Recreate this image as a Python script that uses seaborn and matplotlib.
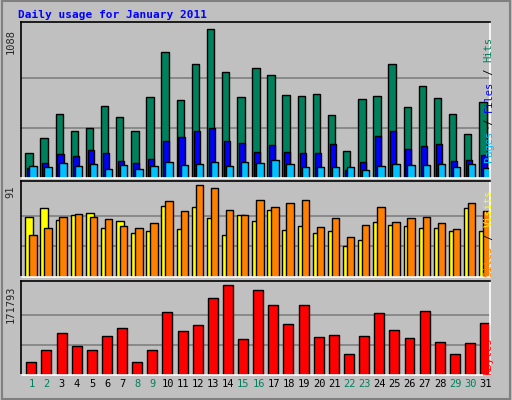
import numpy as np
import matplotlib
matplotlib.use("Agg")
import matplotlib.pyplot as plt
import seaborn as sns

days = np.arange(1, 32)
# values (scaled from bar heights)
hits_px = [74, 119, 188, 137, 149, 212, 179, 140, 239, 371, 230, 335, 440, 314, 239, 323,
           305, 245, 242, 248, 185, 80, 233, 242, 335, 209, 272, 236, 188, 131, 224]
files_px = [30, 44, 71, 65, 83, 74, 50, 44, 56, 110, 122, 140, 149, 110, 104, 77,
            98, 77, 74, 74, 101, 24, 47, 125, 137, 86, 95, 101, 50, 53, 68]
pages_px = [35, 32, 44, 35, 41, 26, 38, 26, 35, 47, 38, 41, 47, 35, 47, 44,
            53, 41, 32, 32, 32, 32, 23, 35, 41, 38, 38, 41, 32, 41, 29]
visits_px = [126, 150, 180, 189, 180, 174, 156, 150, 162, 228, 198, 276, 267, 201, 186, 231,
             210, 222, 231, 153, 177, 120, 159, 210, 165, 177, 180, 162, 147, 222, 198]
sites_px = [180, 207, 171, 186, 192, 150, 168, 132, 138, 213, 147, 210, 177, 126, 186, 168,
            201, 144, 156, 132, 141, 93, 111, 165, 159, 156, 150, 150, 138, 207, 138]
kbytes_px = [39, 75, 126, 87, 75, 117, 144, 39, 75, 192, 135, 153, 234, 273, 108, 258,
             213, 156, 213, 114, 120, 63, 117, 189, 138, 111, 195, 99, 63, 96, 159]

hits = np.round(np.array(hits_px) * 1088 / 440).astype(int)
files = np.round(np.array(files_px) * 1088 / 440).astype(int)
pages = np.round(np.array(pages_px) * 1088 / 440).astype(int)
visits = np.round(np.array(visits_px) * 91 / 276).astype(int)
sites = np.round(np.array(sites_px) * 91 / 276).astype(int)
kbytes = np.round(np.array(kbytes_px) * 171793 / 273).astype(int)
weekend = {1, 2, 8, 9, 15, 16, 22, 23, 29, 30}

bg = "#c0c0c0"
sns.set_style("white")
plt.rcParams["font.family"] = ["DejaVu Sans Mono"]

fig = plt.figure(figsize=(5.12, 4.0), dpi=100, facecolor=bg)
fig.patches.append(plt.Rectangle((0.003, 0.003), 0.994, 0.994, transform=fig.transFigure,
                                 fill=False, edgecolor="#808080", lw=1.5))

ax1 = fig.add_axes([0.041, 0.555, 0.916, 0.39])
ax2 = fig.add_axes([0.041, 0.3075, 0.916, 0.24])
ax3 = fig.add_axes([0.041, 0.0625, 0.916, 0.235])

x0 = days - 1


def draw(ax, off, w, vals, color):
    sns.barplot(x=x0 + off, y=vals, native_scale=True, width=w, color=color,
                edgecolor="black", linewidth=1, saturation=1, ax=ax)


draw(ax1, 0.53, 0.49, hits, "#00805c")
draw(ax1, 0.61, 0.40, files, "#0000ff")
draw(ax1, 0.79, 0.49, pages, "#00c0ff")
draw(ax2, 0.55, 0.53, sites, "#ffff00")
draw(ax2, 0.79, 0.49, visits, "#ff8000")
draw(ax3, 0.68, 0.66, kbytes, "#ff0000")

for ax, top, label in [(ax1, hits.max(), "1088"), (ax2, visits.max(), "91"),
                       (ax3, kbytes.max(), "171793")]:
    ax.set_facecolor(bg)
    ax.set_xlim(0, 31)
    ax.set_ylim(0, top * 1.045)
    for f in (1 / 3, 2 / 3):
        ax.axhline(top * f, color="#808080", lw=1.2, zorder=0)
    ax.set_xticks([])
    ax.set_yticks([])
    ax.set_xlabel("")
    ax.set_ylabel("")
    ax.text(-0.012, top / ax.get_ylim()[1], label, transform=ax.transAxes, rotation=90,
            ha="right", va="top", fontsize=7.5)
    for side in ("left", "top"):
        ax.spines[side].set_color("black")
    for side in ("right", "bottom"):
        ax.spines[side].set_color("white")
    for s in ax.spines.values():
        s.set_linewidth(1.2)

for d in days:
    ax3.text(d - 1 + 0.7, -0.1, str(d), transform=ax3.get_xaxis_transform(), ha="center",
             va="center", fontsize=7.5, color="#00805c" if d in weekend else "black")

fig.text(0.035, 0.963, "Daily usage for January 2011", color="#0000ff", fontsize=8,
         fontweight="bold", va="center")


def vlabel(ax, parts, ystart):
    # coloured pieces stacked along the right edge, reading bottom to top
    y = ystart
    char_px = 0.602 * 7.5 * 100 / 72
    step = char_px / (ax.get_position().height * 400)
    for text, color in parts:
        ax.text(1.008, y, text, transform=ax.transAxes, rotation=90, ha="left", va="bottom",
                fontsize=7.5, color=color, rotation_mode="anchor")
        y += len(text) * step


vlabel(ax1, [("Pages", "#00c0ff"), (" / ", "black"), ("Files", "#0000ff"),
             (" / ", "black"), ("Hits", "#00805c")], 0.1)
vlabel(ax2, [("Sites", "#ff8000"), (" / ", "black"), ("Visits", "#ffff00")], 0.0)
vlabel(ax3, [("KBytes", "#ff0000")], 0.0)

fig.savefig("out.png", dpi=100, facecolor=bg)
